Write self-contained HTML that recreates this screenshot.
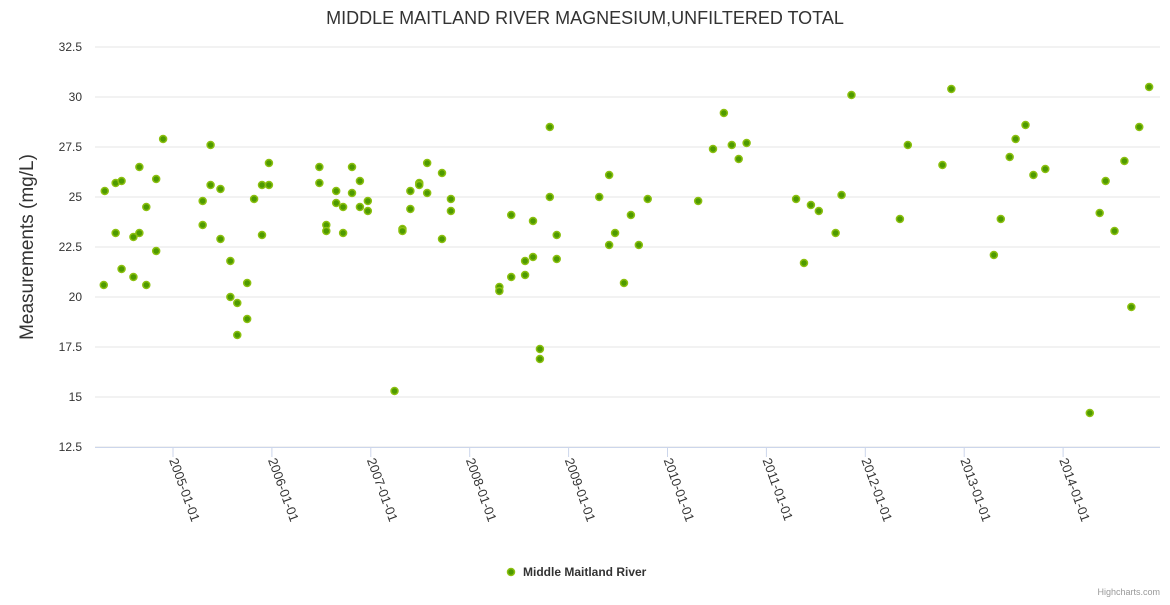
<!DOCTYPE html>
<html><head><meta charset="utf-8"><style>
body{margin:0;background:#fff;font-family:"Liberation Sans",sans-serif}
svg text{font-family:"Liberation Sans",sans-serif}
</style></head><body>
<svg id="chart" width="1170" height="600" xmlns="http://www.w3.org/2000/svg">
<text x="585" y="24" text-anchor="middle" font-size="18" fill="#333">MIDDLE MAITLAND RIVER MAGNESIUM,UNFILTERED TOTAL</text>
<g id="grid"></g>
<g id="yticks"></g>
<g id="xticks"></g>
<text transform="translate(33,247) rotate(-90)" text-anchor="middle" font-size="19" fill="#333">Measurements (mg/L)</text>
<g id="points"></g>
<g>
<circle cx="511" cy="572" r="3.5" fill="#4e9a00" stroke="#8cc010" stroke-width="1.5"/>
<text x="523" y="576" font-size="12" font-weight="bold" fill="#333">Middle Maitland River</text>
</g>
<text x="1160" y="595" text-anchor="end" font-size="9" fill="#999">Highcharts.com</text>
</svg>
<script>
const yTicks=[12.5,15,17.5,20,22.5,25,27.5,30,32.5];
const yTickLabels=["12.5","15","17.5","20","22.5","25","27.5","30","32.5"];
const xTicks=[2005,2006,2007,2008,2009,2010,2011,2012,2013,2014];
const xTickLabels=["2005-01-01","2006-01-01","2007-01-01","2008-01-01","2009-01-01","2010-01-01","2011-01-01","2012-01-01","2013-01-01","2014-01-01"];
const dates=[2004.30,2004.31,2004.42,2004.42,2004.48,2004.48,2004.60,2004.60,2004.66,2004.66,2004.73,2004.73,2004.83,2004.83,2004.90,
2005.30,2005.30,2005.38,2005.38,2005.48,2005.48,2005.58,2005.58,2005.65,2005.65,2005.75,2005.75,2005.82,2005.90,2005.90,2005.97,2005.97,
2006.48,2006.48,2006.55,2006.55,2006.65,2006.65,2006.72,2006.72,2006.81,2006.81,2006.89,2006.89,2006.97,2006.97,
2007.24,2007.32,2007.32,2007.40,2007.40,2007.49,2007.49,2007.57,2007.57,2007.72,2007.72,2007.81,2007.81,
2008.30,2008.30,2008.42,2008.42,2008.56,2008.56,2008.64,2008.64,2008.71,2008.71,2008.81,2008.81,2008.88,2008.88,
2009.31,2009.41,2009.41,2009.47,2009.56,2009.63,2009.71,2009.80,
2010.31,2010.46,2010.57,2010.65,2010.72,2010.80,
2011.30,2011.38,2011.45,2011.53,2011.70,2011.76,2011.86,
2012.35,2012.43,2012.78,2012.87,
2013.30,2013.37,2013.46,2013.52,2013.62,2013.70,2013.82,
2014.27,2014.37,2014.43,2014.52,2014.62,2014.69,2014.77,2014.87];
const values=[20.6,25.3,23.2,25.7,25.8,21.4,23.0,21.0,26.5,23.2,24.5,20.6,22.3,25.9,27.9,
24.8,23.6,27.6,25.6,22.9,25.4,21.8,20.0,19.7,18.1,20.7,18.9,24.9,25.6,23.1,26.7,25.6,
26.5,25.7,23.6,23.3,25.3,24.7,24.5,23.2,26.5,25.2,25.8,24.5,24.8,24.3,
15.3,23.4,23.3,25.3,24.4,25.7,25.6,26.7,25.2,26.2,22.9,24.9,24.3,
20.5,20.3,24.1,21.0,21.8,21.1,23.8,22.0,17.4,16.9,28.5,25.0,23.1,21.9,
25.0,22.6,26.1,23.2,20.7,24.1,22.6,24.9,
24.8,27.4,29.2,27.6,26.9,27.7,
24.9,21.7,24.6,24.3,23.2,25.1,30.1,
23.9,27.6,26.6,30.4,
22.1,23.9,27.0,27.9,28.6,26.1,26.4,
14.2,24.2,25.8,23.3,26.8,19.5,28.5,30.5];
const NS="http://www.w3.org/2000/svg";
const X0=95,X1=1160,Y0=447,Y1=47;
function xs(t){return 173+(t-2005)*98.9;}
function ys(v){return Y0-(v-12.5)/(32.5-12.5)*(Y0-Y1);}
function mk(tag,attrs){const e=document.createElementNS(NS,tag);for(const k in attrs)e.setAttribute(k,attrs[k]);return e;}
const grid=document.getElementById('grid'),yt=document.getElementById('yticks'),xt=document.getElementById('xticks'),pts=document.getElementById('points');
yTicks.forEach((v,i)=>{
  const l=mk('line',{x1:X0,x2:X1,y1:ys(v),y2:ys(v),stroke:'#e6e6e6','stroke-width':1});
  
  
  grid.appendChild(l);
  const t=mk('text',{x:82,y:ys(v)+4,'text-anchor':'end','font-size':12,fill:'#333'});
  
  
  t.textContent=yTickLabels[i];yt.appendChild(t);
});
const ax=mk('line',{x1:X0,x2:X1,y1:Y0+0.5,y2:Y0+0.5,stroke:'#ccd6eb','stroke-width':1});


grid.appendChild(ax);
xTicks.forEach((v,i)=>{
  const x=xs(v);
  const tk=mk('line',{x1:x,x2:x,y1:Y0,y2:Y0+10,stroke:'#ccd6eb'});
  
  
  xt.appendChild(tk);
  const t=mk('text',{transform:`translate(${x-4},${Y0+13}) rotate(70)`,'font-size':13,fill:'#333'});
  
  
  t.textContent=xTickLabels[i];xt.appendChild(t);
});
dates.forEach((d,i)=>{
  const c=mk('circle',{cx:xs(d),cy:ys(values[i]),r:3.5,fill:'#4e9a00',stroke:'#8cc010','stroke-width':1.5});
  
  
  pts.appendChild(c);
});
</script>
</body></html>
